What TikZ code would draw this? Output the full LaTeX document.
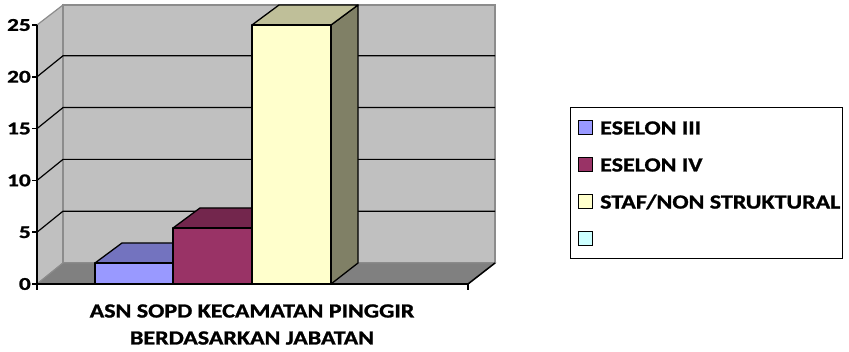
\documentclass[tikz,border=0pt]{standalone}
\usepackage{fontspec}
\setmainfont{Carlito}
\newfontfamily\cbf{Carlito Bold}[FakeStretch=1.2, FakeBold=1.2]
\newfontfamily\cbd{Carlito Bold}[FakeStretch=1.3, FakeBold=1.2]
\definecolor{wallc}{HTML}{C0C0C0}
\definecolor{floorc}{HTML}{808080}
\definecolor{edgec}{HTML}{8C8C8C}
\definecolor{bAf}{HTML}{9999FF}
\definecolor{bAt}{HTML}{7373BF}
\definecolor{bBf}{HTML}{993366}
\definecolor{bBt}{HTML}{73264D}
\definecolor{bCf}{HTML}{FFFFCC}
\definecolor{bCt}{HTML}{BFBF99}
\definecolor{bCs}{HTML}{808066}
\definecolor{cyanc}{HTML}{CCFFFF}
\tikzset{
  bar/.style={draw=black, line width=1.3pt, line join=round},
  grid/.style={draw=black, line width=1.2pt},
  axis/.style={draw=black, line width=1.5pt},
  wall/.style={fill=wallc, draw=edgec, line width=1.2pt},
  lbl/.style={font=\cbf\fontsize{20}{22}\selectfont, inner sep=0pt},
  num/.style={font=\cbd\fontsize{18}{20}\selectfont, inner sep=0pt},
  legsq/.style={draw=black, line width=1pt, minimum width=14pt, minimum height=14pt, inner sep=0pt},
  legtxt/.style={font=\cbf\fontsize{20}{22}\selectfont, inner sep=0pt, anchor=west}
}
\begin{document}
\begin{tikzpicture}[x=1pt,y=-1pt]
\useasboundingbox (0,0) rectangle (849,352);
% walls and floor
\path[wall] (37,284) -- (37,25) -- (63,5) -- (63,263) -- cycle;
\path[wall] (63,5) rectangle (495,263);
\path[fill=floorc, draw=edgec, line width=1pt] (37,284) -- (63,263) -- (495,263) -- (468,284) -- cycle;
% grid lines
\foreach \k in {1,2,3,4} {
  \draw[grid] (37,{284-51.8*\k}) -- (63,{263-51.8*\k}) -- (495,{263-51.8*\k});
}
% bar 1
\path[bar, fill=bAt] (95,263) -- (122,243) -- (200,243) -- (173,263) -- cycle;
\path[bar, fill=bAf] (95,263) rectangle (173,284);
% bar 2
\path[bar, fill=bBt] (173,228) -- (200,208) -- (279,208) -- (252,228) -- cycle;
\path[bar, fill=bBf] (173,228) rectangle (252,284);
% bar 3
\path[bar, fill=bCs] (331,25) -- (358,5) -- (358,263) -- (331,284) -- cycle;
\path[bar, fill=bCt] (252,25) -- (279,5) -- (358,5) -- (331,25) -- cycle;
\path[bar, fill=bCf] (252,25) rectangle (331,284);
% axes
\coordinate (o) at (37,284);
\coordinate (ytop) at (37,25);
\coordinate (xr) at (468,284);
\coordinate (br) at (495,263);
\draw[axis] (ytop) -- (o) -- (xr);
\draw[axis] (xr) -- (br);
\draw[axis] (o) -- ++(0,6);
\draw[axis] (xr) -- ++(0,6);
\foreach \v [count=\i from 0] in {0,5,10,15,20,25} {
  \draw[axis] (32,{284-51.8*\i}) -- (37,{284-51.8*\i});
  \node[num, anchor=east] (t\i) at (31,{284-51.8*\i}) {\v};
}
% axis title
\node[lbl] (title1) at (252,311) {ASN SOPD KECAMATAN PINGGIR};
\node[lbl] (title2) at (252,338) {BERDASARKAN JABATAN};
% legend
\draw[black, line width=1pt] (570,108) rectangle (842,259);
\node[legsq, fill=bAf] (s1) at (585,128) {};
\node[legsq, fill=bBf] (s2) at (585,165) {};
\node[legsq, fill=bCf] (s3) at (585,202) {};
\node[legsq, fill=cyanc] (s4) at (585,239) {};
\node[legtxt] (l1) at (600,128) {ESELON III};
\node[legtxt] (l2) at (600,165) {ESELON IV};
\node[legtxt] (l3) at (600,202) {STAF/NON STRUKTURAL};
\end{tikzpicture}
\end{document}
